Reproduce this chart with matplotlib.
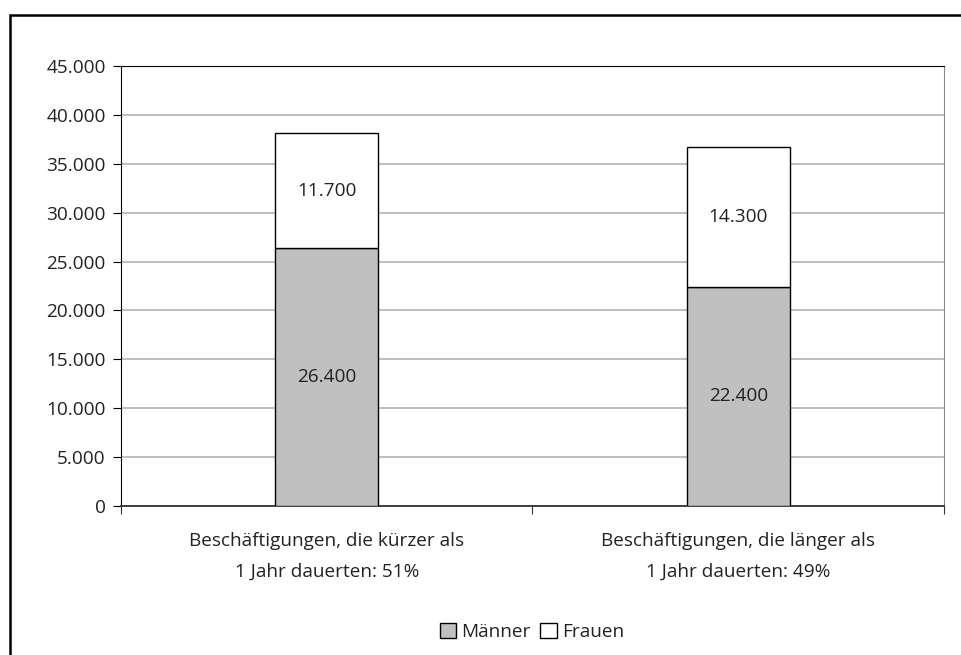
import matplotlib
matplotlib.use('Agg')
import matplotlib.pyplot as plt
from matplotlib.patches import Rectangle, Patch
from matplotlib.ticker import FuncFormatter

categories = ['Beschäftigungen, die kürzer als\n1 Jahr dauerten: 51%',
              'Beschäftigungen, die länger als\n1 Jahr dauerten: 49%']
maenner = [26400, 22400]
frauen = [11700, 14300]

W, H = 962, 655
fig = plt.figure(figsize=(W / 100, H / 100), dpi=100)
plt.rcParams['font.family'] = ['Open Sans', 'DejaVu Sans']
FS = 13.7

# plot area in pixels
left, right, top, bottom = 121, 944, 66, 506
ax = fig.add_axes([left / W, 1 - bottom / H, (right - left) / W, (bottom - top) / H])

# outer frame (cut off at right and bottom)
fig.patches.append(Rectangle((10 / W, -0.1), 1.2, 1 - 15 / H + 0.1, transform=fig.transFigure,
                             fill=False, edgecolor='black', linewidth=1.8))

x = range(len(categories))
ax.bar(x, maenner, width=0.25, color='#c0c0c0', edgecolor='black', linewidth=1, zorder=3)
ax.bar(x, frauen, width=0.25, bottom=maenner, color='white', edgecolor='black', linewidth=1, zorder=3)

fmt = lambda v: f'{v:,.0f}'.replace(',', '.')
for i in x:
    ax.text(i, maenner[i] / 2, fmt(maenner[i]), ha='center', va='center', fontsize=FS, color='#222222', zorder=4)
    ax.text(i, maenner[i] + frauen[i] / 2, fmt(frauen[i]), ha='center', va='center', fontsize=FS, color='#222222', zorder=4)

ax.set_xlim(-0.5, 1.5)
ax.set_ylim(0, 45000)
ax.set_yticks(range(0, 45001, 5000))
ax.yaxis.set_major_formatter(FuncFormatter(lambda v, p: fmt(v)))
ax.yaxis.grid(True, color='#b4b4b4', linewidth=1.2, zorder=0)
ax.set_axisbelow(True)

ax.set_xticks([-0.5, 0.5, 1.5])
ax.set_xticklabels([])
ax.set_xticks([0, 1], minor=True)
ax.set_xticklabels(categories, minor=True, fontsize=FS, color='#222222', linespacing=1.85)
ax.tick_params(axis='x', which='minor', length=0, pad=19)
ax.tick_params(axis='x', which='major', length=6, direction='out', color='#333333')
ax.tick_params(axis='y', length=6, direction='out', labelsize=FS, labelcolor='#222222', pad=5)

ax.spines['left'].set_color('black')
ax.spines['top'].set_color('black')
ax.spines['right'].set_color('#888888')
ax.spines['bottom'].set_color('#333333')
ax.spines['bottom'].set_linewidth(1.3)

handles = [Patch(facecolor='#c0c0c0', edgecolor='black', label='Männer'),
           Patch(facecolor='white', edgecolor='black', label='Frauen')]
fig.legend(handles=handles, loc='center', bbox_to_anchor=(532 / W, 1 - 632 / H), ncol=2,
           frameon=False, fontsize=FS, handlelength=0.85, handleheight=0.85,
           handletextpad=0.3, columnspacing=0.5, labelcolor='#222222')

fig.savefig('out.png', dpi=100)
